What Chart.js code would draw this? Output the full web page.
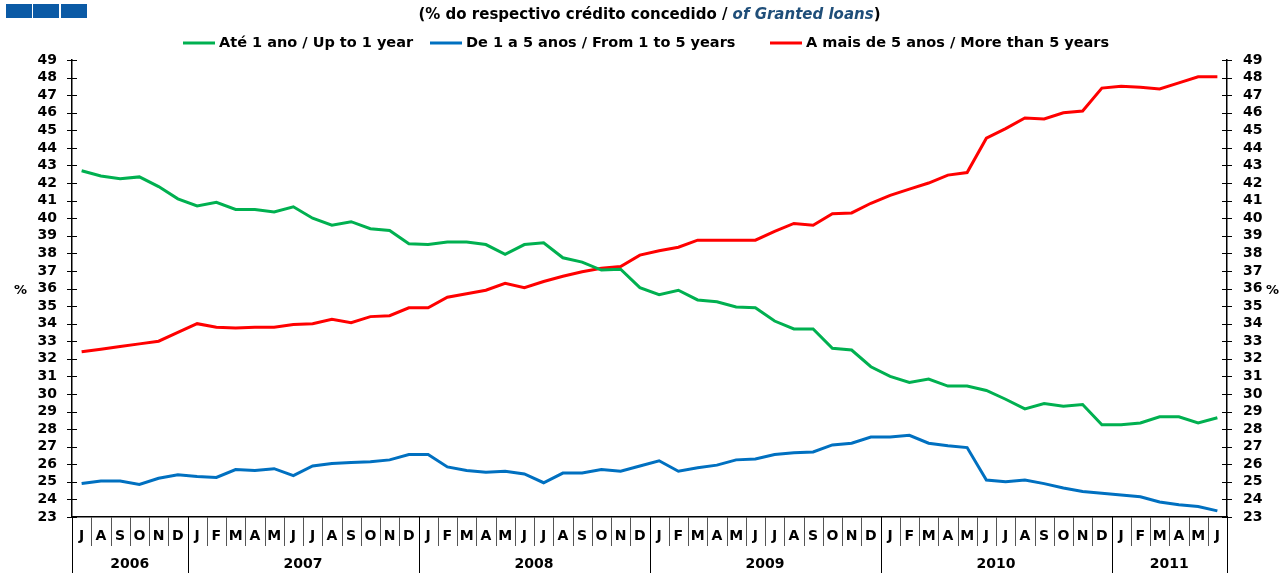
<!DOCTYPE html>
<html>
<head>
<meta charset="utf-8">
<script src="https://cdn.jsdelivr.net/npm/chart.js@4/dist/chart.umd.min.js"></script>
<style>
  html, body { margin: 0; padding: 0; background: #fff; }
  #grafico { display: block; }
</style>
</head>
<body>
<canvas id="grafico" width="1284" height="573"></canvas>
<script>
// meses jul/2006 - jun/2011
const meses = ['J','A','S','O','N','D',
  'J','F','M','A','M','J','J','A','S','O','N','D',
  'J','F','M','A','M','J','J','A','S','O','N','D',
  'J','F','M','A','M','J','J','A','S','O','N','D',
  'J','F','M','A','M','J','J','A','S','O','N','D',
  'J','F','M','A','M','J'];
const anos = ['2006','2007','2008','2009','2010','2011'];
const mesesPorAno = [6, 12, 12, 12, 12, 6];

const ate1ano = [42.7,42.4,42.25,42.35,41.8,41.1,
  40.7,40.9,40.5,40.5,40.35,40.65,40.0,39.6,39.8,39.4,39.3,38.55,
  38.5,38.65,38.65,38.5,37.95,38.5,38.6,37.75,37.5,37.05,37.1,36.05,
  35.65,35.9,35.35,35.25,34.95,34.9,34.15,33.7,33.7,32.6,32.5,31.55,
  31.0,30.65,30.85,30.45,30.45,30.2,29.7,29.15,29.45,29.3,29.4,28.25,
  28.25,28.35,28.7,28.7,28.35,28.65];
const de1a5anos = [24.9,25.05,25.05,24.85,25.2,25.4,
  25.3,25.25,25.7,25.65,25.75,25.35,25.9,26.05,26.1,26.15,26.25,26.55,
  26.55,25.85,25.65,25.55,25.6,25.45,24.95,25.5,25.5,25.7,25.6,25.9,
  26.2,25.6,25.8,25.95,26.25,26.3,26.55,26.65,26.7,27.1,27.2,27.55,
  27.55,27.65,27.2,27.05,26.95,25.1,25.0,25.1,24.9,24.65,24.45,24.35,
  24.25,24.15,23.85,23.7,23.6,23.35];
const mais5anos = [32.4,32.55,32.7,32.85,33.0,33.5,
  34.0,33.8,33.75,33.8,33.8,33.95,34.0,34.25,34.05,34.4,34.45,34.9,
  34.9,35.5,35.7,35.9,36.3,36.05,36.4,36.7,36.95,37.15,37.25,37.9,
  38.15,38.35,38.75,38.75,38.75,38.75,39.25,39.7,39.6,40.25,40.3,40.85,
  41.3,41.65,42.0,42.45,42.6,44.55,45.1,45.7,45.65,46.0,46.1,47.4,
  47.5,47.45,47.35,47.7,48.05,48.05];

const series = [
  { label: 'Até 1 ano / Up to 1 year', data: ate1ano, cor: '#00b050' },
  { label: 'De 1 a 5 anos / From 1 to 5 years', data: de1a5anos, cor: '#0070c0' },
  { label: 'A mais de 5 anos / More than 5 years', data: mais5anos, cor: '#ff0000' }
];

const FONTE = '"DejaVu Sans", sans-serif';

// cabeçalho, legenda, eixo x em dois níveis e marcas dos eixos
const decoracao = {
  id: 'decoracao',
  afterDraw(chart) {
    const ctx = chart.ctx;
    const area = chart.chartArea;
    const x = chart.scales.x;
    const y = chart.scales.y;
    ctx.save();

    // quadrados azuis
    ctx.fillStyle = '#0b5aa5';
    [6, 33, 61].forEach(px => ctx.fillRect(px, 4, 26, 14));

    // título
    ctx.textBaseline = 'middle';
    const p1 = '(% do respectivo crédito concedido / ';
    const p2 = 'of Granted loans';
    const p3 = ')';
    ctx.font = 'bold 15px ' + FONTE;
    const w1 = ctx.measureText(p1).width;
    const w3 = ctx.measureText(p3).width;
    ctx.font = 'italic bold 15px ' + FONTE;
    const w2 = ctx.measureText(p2).width;
    let tx = (area.left + area.right) / 2 - (w1 + w2 + w3) / 2;
    ctx.textAlign = 'left';
    ctx.font = 'bold 15px ' + FONTE;
    ctx.fillStyle = '#000';
    ctx.fillText(p1, tx, 15);
    ctx.font = 'italic bold 15px ' + FONTE;
    ctx.fillStyle = '#1f4e79';
    ctx.fillText(p2, tx + w1, 15);
    ctx.font = 'bold 15px ' + FONTE;
    ctx.fillStyle = '#000';
    ctx.fillText(p3, tx + w1 + w2, 15);

    // legenda
    ctx.font = 'bold 14.5px ' + FONTE;
    const inicioLegenda = [183, 430, 770];
    series.forEach((s, k) => {
      const lx = inicioLegenda[k];
      ctx.strokeStyle = s.cor;
      ctx.lineWidth = 3;
      ctx.beginPath();
      ctx.moveTo(lx, 43);
      ctx.lineTo(lx + 32, 43);
      ctx.stroke();
      ctx.fillStyle = '#000';
      ctx.fillText(s.label, lx + 36, 43);
    });

    // marcas dos eixos y (cruzando a linha)
    ctx.strokeStyle = '#000';
    ctx.lineWidth = 1;
    for (let v = 23; v <= 49; v++) {
      const py = Math.round(y.getPixelForValue(v)) + 0.5;
      ctx.beginPath();
      ctx.moveTo(area.left - 5, py); ctx.lineTo(area.left + 5, py);
      ctx.moveTo(area.right - 5, py); ctx.lineTo(area.right + 5, py);
      ctx.stroke();
    }

    // rótulo %
    ctx.fillStyle = '#000';
    ctx.font = 'bold 13px ' + FONTE;
    ctx.textAlign = 'left';
    const py36 = y.getPixelForValue(36);
    ctx.fillText('%', 14, py36 + 2);
    ctx.fillText('%', 1266, py36 + 2);

    // eixo x: meses e anos
    const passo = x.getPixelForValue(1) - x.getPixelForValue(0);
    ctx.strokeStyle = '#555';
    ctx.lineWidth = 1;
    ctx.font = 'bold 14px ' + FONTE;
    ctx.textAlign = 'center';
    meses.forEach((m, i) => {
      const cx = x.getPixelForValue(i);
      ctx.fillStyle = '#000';
      ctx.fillText(m, cx, area.bottom + 19);
      const bx = Math.round(cx + passo / 2) + 0.5;
      ctx.beginPath();
      ctx.moveTo(bx, area.bottom);
      ctx.lineTo(bx, area.bottom + 29);
      ctx.stroke();
    });
    ctx.strokeStyle = '#000';
    let inicio = 0;
    const lx0 = Math.round(x.getPixelForValue(0) - passo / 2) + 0.5;
    ctx.beginPath();
    ctx.moveTo(lx0, area.bottom);
    ctx.lineTo(lx0, chart.height);
    ctx.stroke();
    anos.forEach((a, k) => {
      const fim = inicio + mesesPorAno[k] - 1;
      const x0 = x.getPixelForValue(inicio) - passo / 2;
      const x1 = x.getPixelForValue(fim) + passo / 2;
      ctx.font = 'bold 14px ' + FONTE;
      ctx.fillStyle = '#000';
      ctx.fillText(a, (x0 + x1) / 2, area.bottom + 47);
      const bx = Math.round(x1) + 0.5;
      ctx.beginPath();
      ctx.moveTo(bx, area.bottom);
      ctx.lineTo(bx, chart.height);
      ctx.stroke();
      inicio = fim + 1;
    });

    ctx.restore();
  }
};

const ctx = document.getElementById('grafico').getContext('2d');

new Chart(ctx, {
  type: 'line',
  data: {
    labels: meses.map((m, i) => m + i),
    datasets: series.map(s => ({
      label: s.label,
      data: s.data,
      borderColor: s.cor,
      backgroundColor: s.cor,
      borderWidth: 3,
      pointRadius: 0,
      tension: 0,
      fill: false,
      yAxisID: 'y'
    })).concat([{
      label: 'eixo direito',
      data: [],
      yAxisID: 'y2'
    }])
  },
  options: {
    responsive: false,
    animation: false,
    layout: { padding: { top: 60, bottom: 56, left: 0, right: 0 } },
    plugins: {
      legend: { display: false },
      title: { display: false },
      tooltip: { enabled: false }
    },
    scales: {
      x: {
        type: 'category',
        offset: true,
        ticks: { display: false },
        grid: { display: false },
        border: { display: true, color: '#000', width: 1.5 },
        afterFit(scale) { scale.height = 0; }
      },
      y: {
        position: 'left',
        min: 23,
        max: 49,
        ticks: {
          stepSize: 1,
          autoSkip: false,
          color: '#000',
          font: { family: FONTE, size: 14, weight: 'bold' },
          padding: 7
        },
        grid: { display: false },
        border: { display: true, color: '#000', width: 1.5 },
        afterFit(scale) { scale.width = 72; }
      },
      y2: {
        position: 'right',
        min: 23,
        max: 49,
        ticks: {
          stepSize: 1,
          autoSkip: false,
          color: '#000',
          font: { family: FONTE, size: 14, weight: 'bold' },
          padding: 8
        },
        grid: { display: false },
        border: { display: true, color: '#000', width: 1.5 },
        afterFit(scale) { scale.width = 57; }
      }
    }
  },
  plugins: [decoracao]
});
</script>
</body>
</html>
